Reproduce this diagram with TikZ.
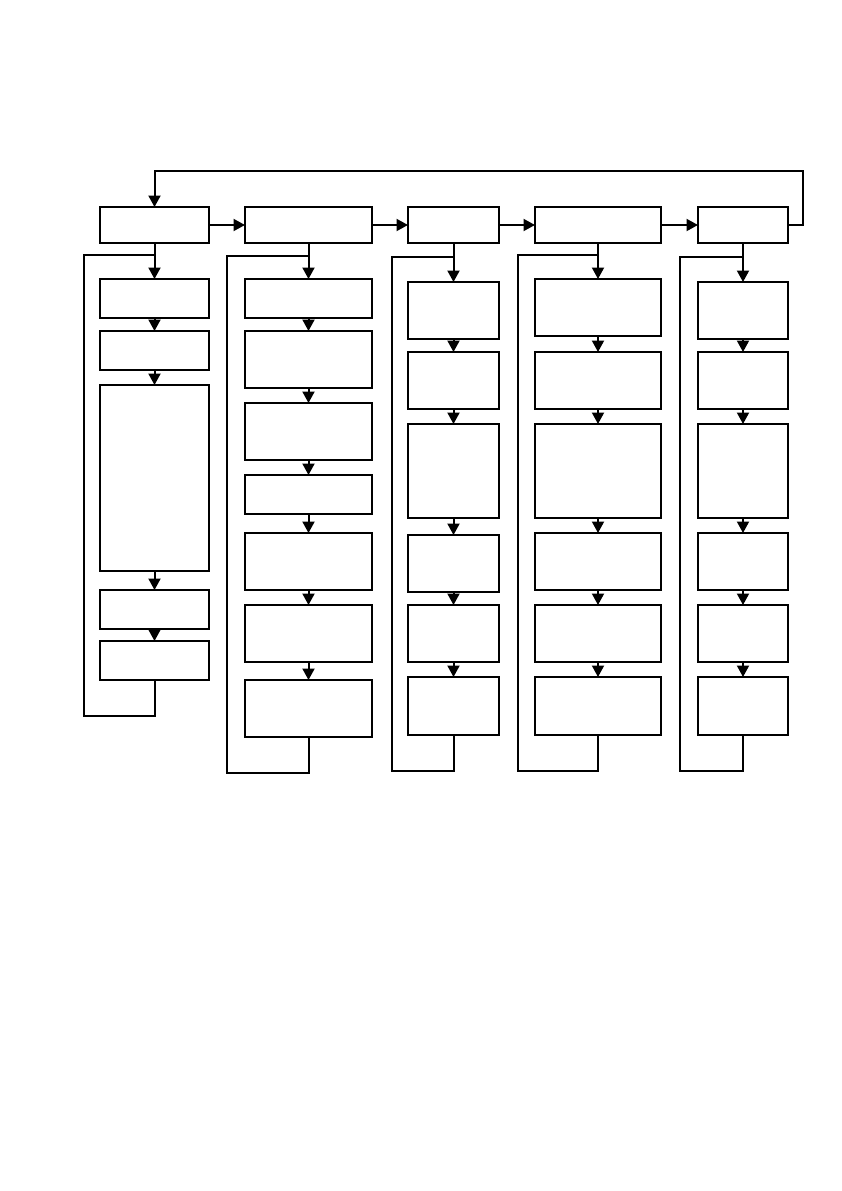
\documentclass[tikz,border=0pt]{standalone}
\usetikzlibrary{arrows.meta}
\tikzset{
  box/.style={draw, line width=2pt, inner sep=0pt, outer sep=0pt, fill=white},
  conn/.style={line width=2pt},
  arr/.style={line width=2pt, -{Triangle[length=11.5pt,width=12pt]}}
}
\newcommand\bx[5]{\node[box, minimum width={(#4-#2)*1pt}, minimum height={(#5-#3)*1pt}] (#1) at ({(#2+#4)/2},{(#3+#5)/2}) {};}
\begin{document}
\begin{tikzpicture}[x=1pt,y=-1pt]
\useasboundingbox[fill=white] (0,0) rectangle (842,1191);
% top row
\bx{A}{100}{207}{209}{243}
\bx{B}{245}{207}{372}{243}
\bx{C}{408}{207}{499}{243}
\bx{D}{535}{207}{661}{243}
\bx{E}{698}{207}{788}{243}
% column 1
\bx{a1}{100}{279}{209}{318}
\bx{a2}{100}{331}{209}{370}
\bx{a3}{100}{385}{209}{571}
\bx{a4}{100}{590}{209}{629}
\bx{a5}{100}{641}{209}{680}
% column 2
\bx{b1}{245}{279}{372}{318}
\bx{b2}{245}{331}{372}{388}
\bx{b3}{245}{403}{372}{460}
\bx{b4}{245}{475}{372}{514}
\bx{b5}{245}{533}{372}{590}
\bx{b6}{245}{605}{372}{662}
\bx{b7}{245}{680}{372}{737}
% column 3
\bx{c1}{408}{282}{499}{339}
\bx{c2}{408}{352}{499}{409}
\bx{c3}{408}{424}{499}{518}
\bx{c4}{408}{535}{499}{592}
\bx{c5}{408}{605}{499}{662}
\bx{c6}{408}{677}{499}{735}
% column 4
\bx{d1}{535}{279}{661}{336}
\bx{d2}{535}{352}{661}{409}
\bx{d3}{535}{424}{661}{518}
\bx{d4}{535}{533}{661}{590}
\bx{d5}{535}{605}{661}{662}
\bx{d6}{535}{677}{661}{735}
% column 5
\bx{e1}{698}{282}{788}{339}
\bx{e2}{698}{352}{788}{409}
\bx{e3}{698}{424}{788}{518}
\bx{e4}{698}{533}{788}{590}
\bx{e5}{698}{605}{788}{662}
\bx{e6}{698}{677}{788}{735}
% horizontal arrows
\draw[arr] (A) -- (B);
\draw[arr] (B) -- (C);
\draw[arr] (C) -- (D);
\draw[arr] (D) -- (E);
% top feedback
\coordinate (R) at (803,171);
\draw[arr] (E.east) -| (R) -| (A.north);
% vertical chains
\foreach \s/\t in {A/a1,a1/a2,a2/a3,a3/a4,a4/a5,
                   B/b1,b1/b2,b2/b3,b3/b4,b4/b5,b5/b6,b6/b7,
                   C/c1,c1/c2,c2/c3,c3/c4,c4/c5,c5/c6,
                   D/d1,d1/d2,d2/d3,d3/d4,d4/d5,d5/d6,
                   E/e1,e1/e2,e2/e3,e3/e4,e4/e5,e5/e6}
  \draw[arr] (\s) -- (\t);
% loops
\coordinate (L1b) at (84,716);   \coordinate (L1t) at (154.5,255);
\coordinate (L2b) at (227,773);  \coordinate (L2t) at (308.5,256);
\coordinate (L3b) at (392,771);  \coordinate (L3t) at (453.5,257);
\coordinate (L4b) at (518,771);  \coordinate (L4t) at (598,255);
\coordinate (L5b) at (680,771);  \coordinate (L5t) at (743,257);
\draw[conn] (a5.south) |- (L1b) |- (L1t);
\draw[conn] (b7.south) |- (L2b) |- (L2t);
\draw[conn] (c6.south) |- (L3b) |- (L3t);
\draw[conn] (d6.south) |- (L4b) |- (L4t);
\draw[conn] (e6.south) |- (L5b) |- (L5t);
\end{tikzpicture}
\end{document}
